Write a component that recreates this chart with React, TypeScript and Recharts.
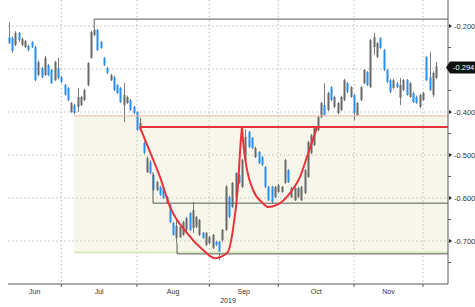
import { ComposedChart, Bar, Line, XAxis, YAxis, CartesianGrid, ReferenceArea } from "recharts";

// daily OHLC, one entry per trading day (Jun 10 .. Dec 5 2019)
const opens = [
  -0.226, -0.228, -0.244, -0.216, -0.244, -0.249, -0.246, -0.237, -0.249, -0.314,
  -0.298, -0.314, -0.291, -0.302, -0.326, -0.298, -0.319, -0.337, -0.344, -0.4,
  -0.384, -0.388, -0.384, -0.372, -0.337, -0.274, -0.221, -0.209, -0.237, -0.274,
  -0.298, -0.326, -0.319, -0.337, -0.344, -0.384, -0.379, -0.372, -0.388, -0.4,
  -0.44, -0.472, -0.54, -0.516, -0.547, -0.581, -0.574, -0.577, -0.612, -0.616,
  -0.658, -0.693, -0.691, -0.686, -0.674, -0.635, -0.67, -0.667, -0.686, -0.681,
  -0.709, -0.705, -0.716, -0.702, -0.702, -0.698, -0.674, -0.598, -0.621, -0.598,
  -0.547, -0.574, -0.512, -0.447, -0.46, -0.505, -0.493, -0.505, -0.528, -0.574,
  -0.574, -0.598, -0.586, -0.586, -0.565, -0.535, -0.598, -0.605, -0.598, -0.605,
  -0.588, -0.551, -0.495, -0.477, -0.442, -0.412, -0.384, -0.395, -0.342, -0.388,
  -0.402, -0.395, -0.372, -0.333, -0.365, -0.36, -0.407, -0.372, -0.333, -0.307,
  -0.342, -0.249, -0.272, -0.228, -0.256, -0.302, -0.326, -0.344, -0.333, -0.367,
  -0.349, -0.326, -0.365, -0.356, -0.365, -0.388, -0.372, -0.272, -0.319, -0.36,
  -0.321,
];
const highs = [
  -0.191, -0.224, -0.212, -0.214, -0.227, -0.232, -0.243, -0.235, -0.246, -0.28,
  -0.295, -0.27, -0.288, -0.3, -0.281, -0.274, -0.316, -0.335, -0.342, -0.377,
  -0.381, -0.344, -0.362, -0.346, -0.284, -0.211, -0.205, -0.207, -0.235, -0.272,
  -0.295, -0.311, -0.316, -0.335, -0.342, -0.333, -0.362, -0.37, -0.386, -0.398,
  -0.414, -0.468, -0.503, -0.512, -0.544, -0.56, -0.572, -0.574, -0.595, -0.614,
  -0.656, -0.651, -0.665, -0.653, -0.644, -0.633, -0.609, -0.642, -0.649, -0.679,
  -0.679, -0.688, -0.684, -0.7, -0.7, -0.672, -0.57, -0.595, -0.563, -0.54,
  -0.544, -0.509, -0.44, -0.444, -0.458, -0.481, -0.491, -0.502, -0.526, -0.572,
  -0.572, -0.572, -0.567, -0.572, -0.509, -0.533, -0.574, -0.574, -0.574, -0.572,
  -0.533, -0.467, -0.451, -0.433, -0.409, -0.377, -0.333, -0.353, -0.34, -0.362,
  -0.377, -0.362, -0.323, -0.33, -0.34, -0.358, -0.377, -0.34, -0.3, -0.305,
  -0.23, -0.216, -0.237, -0.226, -0.253, -0.3, -0.323, -0.323, -0.33, -0.321,
  -0.323, -0.323, -0.33, -0.353, -0.362, -0.358, -0.353, -0.27, -0.26, -0.305,
  -0.284,
];
const lows = [
  -0.242, -0.262, -0.247, -0.237, -0.247, -0.251, -0.259, -0.251, -0.328, -0.317,
  -0.321, -0.316, -0.317, -0.335, -0.328, -0.324, -0.333, -0.362, -0.375, -0.402,
  -0.405, -0.4, -0.386, -0.375, -0.34, -0.276, -0.224, -0.258, -0.253, -0.293,
  -0.312, -0.328, -0.351, -0.358, -0.379, -0.423, -0.381, -0.398, -0.405, -0.444,
  -0.445, -0.498, -0.542, -0.545, -0.584, -0.584, -0.595, -0.602, -0.614, -0.658,
  -0.688, -0.705, -0.693, -0.688, -0.677, -0.677, -0.681, -0.67, -0.688, -0.695,
  -0.712, -0.707, -0.719, -0.712, -0.744, -0.702, -0.677, -0.647, -0.623, -0.6,
  -0.567, -0.577, -0.514, -0.484, -0.486, -0.507, -0.521, -0.526, -0.577, -0.607,
  -0.612, -0.6, -0.588, -0.588, -0.567, -0.565, -0.6, -0.607, -0.6, -0.607,
  -0.591, -0.553, -0.498, -0.479, -0.444, -0.414, -0.409, -0.398, -0.375, -0.391,
  -0.405, -0.398, -0.375, -0.356, -0.367, -0.419, -0.409, -0.375, -0.335, -0.34,
  -0.344, -0.267, -0.274, -0.253, -0.305, -0.333, -0.356, -0.347, -0.344, -0.384,
  -0.351, -0.362, -0.367, -0.379, -0.381, -0.391, -0.374, -0.328, -0.351, -0.365,
  -0.323,
];
const closes = [
  -0.24, -0.258, -0.216, -0.233, -0.23, -0.235, -0.256, -0.249, -0.326, -0.284,
  -0.319, -0.274, -0.314, -0.333, -0.284, -0.321, -0.33, -0.36, -0.372, -0.379,
  -0.402, -0.365, -0.365, -0.349, -0.286, -0.214, -0.209, -0.256, -0.251, -0.291,
  -0.309, -0.314, -0.349, -0.356, -0.377, -0.36, -0.365, -0.395, -0.402, -0.442,
  -0.425, -0.495, -0.507, -0.542, -0.581, -0.563, -0.593, -0.6, -0.598, -0.656,
  -0.686, -0.665, -0.667, -0.656, -0.647, -0.674, -0.628, -0.644, -0.651, -0.693,
  -0.681, -0.691, -0.686, -0.709, -0.726, -0.674, -0.574, -0.644, -0.565, -0.542,
  -0.565, -0.512, -0.458, -0.481, -0.484, -0.484, -0.519, -0.523, -0.574, -0.605,
  -0.609, -0.574, -0.57, -0.574, -0.512, -0.563, -0.577, -0.577, -0.577, -0.574,
  -0.535, -0.47, -0.454, -0.435, -0.412, -0.379, -0.407, -0.356, -0.372, -0.365,
  -0.379, -0.365, -0.326, -0.353, -0.342, -0.402, -0.379, -0.342, -0.302, -0.337,
  -0.233, -0.226, -0.24, -0.251, -0.302, -0.33, -0.353, -0.326, -0.342, -0.337,
  -0.326, -0.36, -0.333, -0.377, -0.379, -0.36, -0.356, -0.326, -0.349, -0.309,
  -0.294,
];

// x axis: bar index of first trading day of each month, label positions
const monthStarts = [16, 39, 61, 82, 105, 126];
const monthNames = ["Jun", "Jul", "Aug", "Sep", "Oct", "Nov"];
const monthCenters = [7.9, 27.5, 50, 71.5, 93.5, 115.5];
const yearLabel = "2019";

// y axis
const yGrid = [-0.2, -0.3, -0.4, -0.5, -0.6, -0.7];
const yLabels = [-0.2, -0.4, -0.5, -0.6, -0.7];
const yMinor = [-0.25, -0.35, -0.45, -0.55, -0.65, -0.75];
const lastValue = -0.294;

const X_MIN = -0.21;
const X_MAX = 133.6;
const Y_MIN = -0.8;
const Y_MAX = -0.1395;

// drawn annotations: [bar index, value]
const cupPts = [
  [39.9, -0.435], [42.97, -0.493], [46.0, -0.551], [49.1, -0.621], [54.2, -0.681],
  [59.1, -0.721], [62.7, -0.74], [66.4, -0.728], [68.2, -0.674], [69.7, -0.574],
  [70.6, -0.465], [70.95, -0.435],
];
const handlePts = [
  [70.95, -0.435], [71.25, -0.465], [72.5, -0.535], [74.3, -0.581], [77.3, -0.612],
  [78.9, -0.621], [81.6, -0.616], [85.6, -0.588], [88.6, -0.551], [90.7, -0.505],
  [93.8, -0.435],
];
const necklinePts = [[39.9, -0.435], [X_MAX, -0.435]];
const highLinePts = [[26.0, -0.205], [26.0, -0.184], [X_MAX, -0.184]];
const midLinePts = [[43.9, -0.54], [43.9, -0.612], [X_MAX, -0.612]];
const lowLinePts = [[51.2, -0.705], [51.2, -0.73], [X_MAX, -0.73]];
const zoneStart = 19.9;
const zoneTop = -0.409;
const zoneBottom = -0.727;

const FONT = "'Liberation Sans', Arial, sans-serif";
const BLUE = "#2490f5";
const GRAY = "#696969";
const WICK = "#7c7c7c";
const RED = "#e8333b";
const DARK = "#5a5a5a";

const candles = opens.map((o, i) => ({
  i,
  o,
  h: highs[i],
  l: lows[i],
  c: closes[i],
  range: [lows[i], highs[i]],
}));

const pts = (arr: number[][]) => arr.map(([i, v]) => ({ i, v }));
const near = (a: number, b: number) => Math.abs(a - b) < 1e-6;

const Candle = (props: any) => {
  const { x, y, width, height, payload } = props;
  if (!payload || height == null) return null;
  const { o, h, l, c } = payload;
  const top = Math.min(y, y + height);
  const bot = Math.max(y, y + height);
  const k = h - l > 0 ? (bot - top) / (h - l) : 0;
  const yOf = (v: number) => top + (h - v) * k;
  const up = c >= o;
  const cx = Math.round(x + width / 2);
  const bTop = yOf(Math.max(o, c));
  const bBot = yOf(Math.min(o, c));
  return (
    <g>
      <line x1={cx + 0.5} x2={cx + 0.5} y1={top} y2={bot} stroke={WICK} strokeWidth={1} />
      <rect x={cx - 0.5} y={bTop} width={2} height={Math.max(1, bBot - bTop)} fill={up ? GRAY : BLUE} />
    </g>
  );
};

const XTick = (props: any) => {
  const { x, y, payload } = props;
  const v = payload.value;
  if (monthStarts.some((m) => near(m, v))) {
    return <line x1={x} x2={x} y1={y} y2={y + 3} stroke={DARK} />;
  }
  const idx = monthCenters.findIndex((m) => near(m, v));
  if (idx < 0) return null;
  return (
    <text x={x} y={y + 10} textAnchor="middle" fontSize={7} fontFamily={FONT} fill="#333">
      {monthNames[idx]}
    </text>
  );
};

const YTick = (props: any) => {
  const { x, y, payload } = props;
  const v = payload.value;
  if (near(v, lastValue)) {
    return (
      <g>
        <path d={`M${x - 2},${y + 1} L${x + 2},${y - 5} L${x + 30},${y - 5} L${x + 30},${y + 7} L${x + 2},${y + 7} Z`} fill="#111" />
        <text x={x + 5} y={y + 1} dy="0.35em" fontSize={7.5} fontFamily={FONT} fill="#fff">
          {lastValue.toFixed(3)}
        </text>
      </g>
    );
  }
  if (yLabels.some((m) => near(m, v))) {
    return (
      <g>
        <path d={`M${x + 1},${y - 2} L${x + 4},${y} L${x + 1},${y + 2} Z`} fill="#222" />
        <text x={x + 6} y={y} dy="0.35em" fontSize={7.5} fontFamily={FONT} fill="#333">
          {v.toFixed(3)}
        </text>
      </g>
    );
  }
  return <line x1={x} x2={x + 3} y1={y} y2={y} stroke={DARK} />;
};

const xTicks = [...monthStarts, ...monthCenters].sort((a, b) => a - b);
const yTicks = [...yLabels, ...yMinor, lastValue].sort((a, b) => a - b);

export default function App() {
  return (
    <div style={{ position: "absolute", left: 0, top: 0, width: 475, height: 307, background: "#fff" }}>
      <ComposedChart width={475} height={307} data={candles} margin={{ top: 0, right: 0, bottom: 0, left: 8 }}>
        <ReferenceArea
          x1={zoneStart}
          x2={X_MAX}
          y1={zoneBottom}
          y2={zoneTop}
          fill="#d8d8a0"
          fillOpacity={0.22}
          stroke="none"
          ifOverflow="hidden"
        />
        <CartesianGrid
          horizontalValues={yGrid}
          verticalValues={monthStarts}
          stroke="#bdbdbd"
          strokeDasharray="1.5 2.5"
        />
        <XAxis
          type="number"
          dataKey="i"
          domain={[X_MIN, X_MAX]}
          allowDataOverflow
          ticks={xTicks}
          interval={0}
          tick={<XTick />}
          tickLine={false}
          tickSize={0}
          tickMargin={0}
          axisLine={{ stroke: DARK }}
          height={23}
          label={{ value: yearLabel, position: "insideBottom", offset: 4, fontSize: 7, fontFamily: FONT, fill: "#333" }}
        />
        <YAxis
          orientation="right"
          type="number"
          domain={[Y_MIN, Y_MAX]}
          allowDataOverflow
          ticks={yTicks}
          interval={0}
          tick={<YTick />}
          tickLine={false}
          tickSize={0}
          tickMargin={0}
          axisLine={{ stroke: DARK }}
          width={27}
        />
        <Line data={pts([[zoneStart, zoneTop], [X_MAX, zoneTop]])} dataKey="v" stroke="#f0b4a4" strokeWidth={1} dot={false} isAnimationActive={false} />
        <Line data={pts([[zoneStart, zoneBottom], [X_MAX, zoneBottom]])} dataKey="v" stroke="#cfe6b0" strokeWidth={1.5} dot={false} isAnimationActive={false} />
        <Line data={pts(highLinePts)} dataKey="v" type="linear" stroke={DARK} strokeWidth={1} dot={false} isAnimationActive={false} />
        <Line data={pts(midLinePts)} dataKey="v" type="linear" stroke={DARK} strokeWidth={1} dot={false} isAnimationActive={false} />
        <Line data={pts(lowLinePts)} dataKey="v" type="linear" stroke={DARK} strokeWidth={1} dot={false} isAnimationActive={false} />
        <Bar dataKey="range" barSize={3} shape={(p: any) => <Candle {...p} />} isAnimationActive={false} />
        <Line data={pts(necklinePts)} dataKey="v" type="linear" stroke={RED} strokeWidth={2} dot={false} isAnimationActive={false} />
        <Line data={pts(cupPts)} dataKey="v" type="monotone" stroke={RED} strokeWidth={2} dot={false} isAnimationActive={false} />
        <Line data={pts(handlePts)} dataKey="v" type="monotone" stroke={RED} strokeWidth={2} dot={false} isAnimationActive={false} />
      </ComposedChart>
    </div>
  );
}
